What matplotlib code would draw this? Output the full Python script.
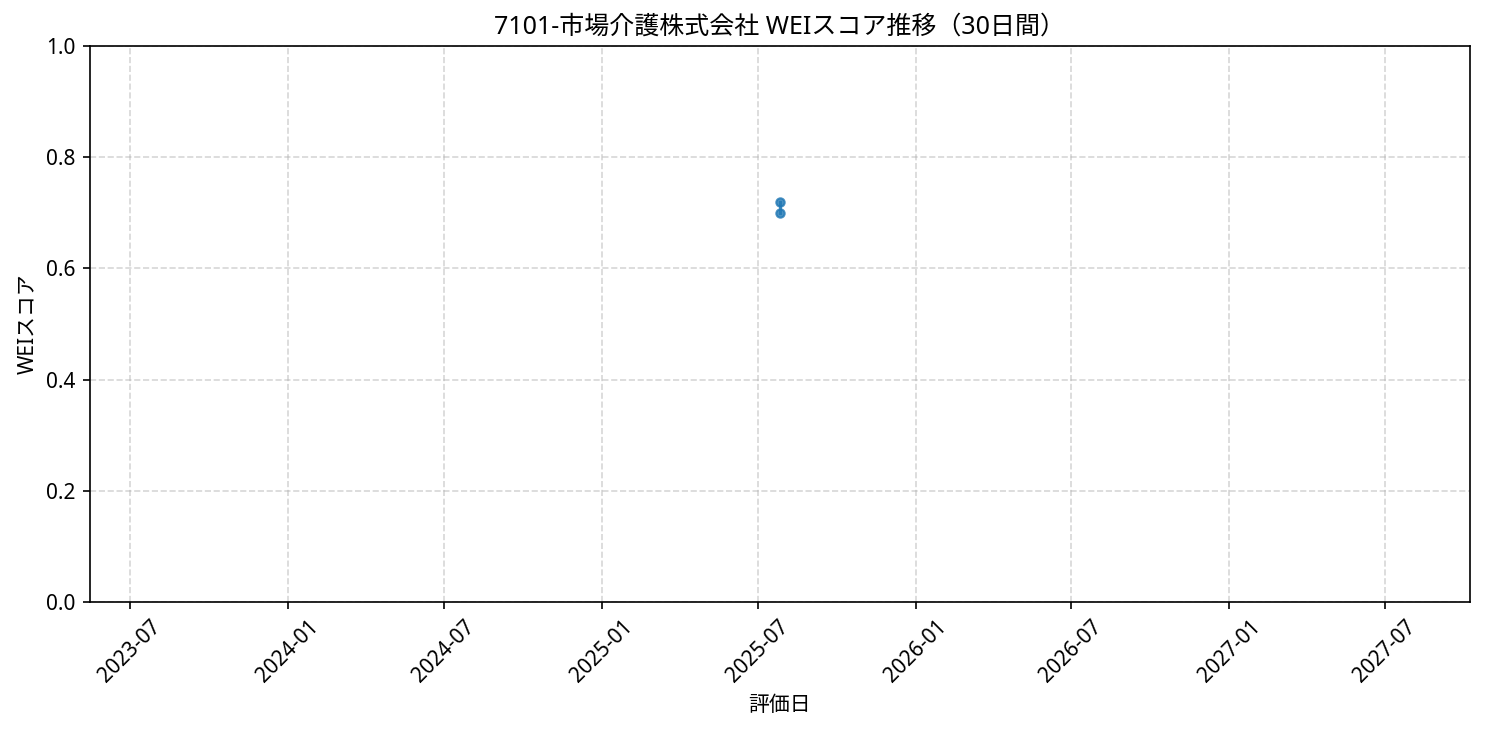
import pandas as pd
import matplotlib
matplotlib.use('Agg')
import matplotlib.pyplot as plt
import matplotlib.dates as mdates

plt.rcParams['font.family'] = ['Noto Sans', 'Noto Sans CJK JP', 'DejaVu Sans']

# data
dates = pd.to_datetime(['2025-07-27', '2025-07-27'])
scores = [0.72, 0.70]
title = '7101-市場介護株式会社 WEIスコア推移（30日間）'

fig, ax = plt.subplots(figsize=(9.9, 4.9), dpi=150)
ax.plot(dates, scores, marker='o', markersize=4, linewidth=1.5, alpha=0.8, color='#1f77b4')
ax.set_ylim(0, 1.0)
ax.set_title(title, fontsize=12)
ax.set_xlabel('評価日')
ax.set_ylabel('WEIスコア')
ax.grid(True, linestyle='--', alpha=0.5)
ax.xaxis.set_major_formatter(mdates.DateFormatter('%Y-%m'))
plt.xticks(rotation=45)
plt.subplots_adjust(left=0.0606, right=0.9899, top=0.9374, bottom=0.181)
plt.savefig('out.png', dpi=150)
